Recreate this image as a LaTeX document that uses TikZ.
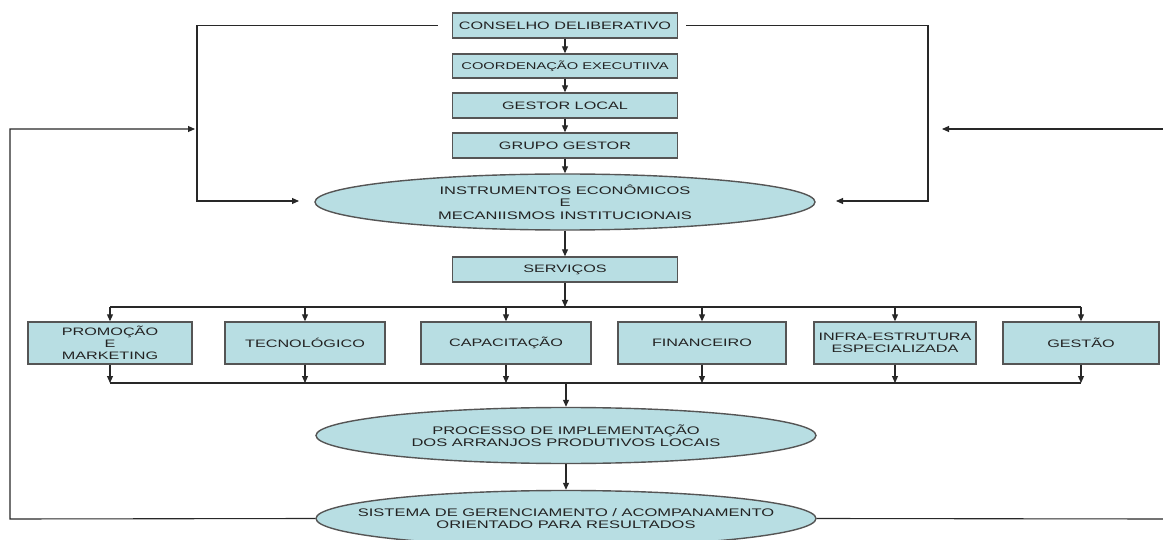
\documentclass[tikz,border=0pt]{standalone}
\usepackage{fontspec}
\setmainfont{Liberation Sans}[FakeStretch=1.5]
\usetikzlibrary{shapes.geometric,arrows.meta}
\definecolor{boxfill}{RGB}{184,222,227}
\definecolor{boxline}{RGB}{85,85,85}
\definecolor{linecol}{RGB}{40,40,40}
\definecolor{txt}{RGB}{35,35,35}
\begin{document}
\begin{tikzpicture}[x=1pt,y=-1pt,
  box/.style={draw=boxline,fill=boxfill,line width=1.4pt,inner sep=0pt,align=center,
    text=txt,font=\fontsize{10.8}{11.5}\selectfont},
  oval/.style={ellipse,draw=boxline,fill=boxfill,line width=1.4pt,inner xsep=-60pt,inner ysep=0pt,
    minimum width=500pt,minimum height=56pt,align=center,text=txt,
    font=\fontsize{11}{12.5}\selectfont},
  conn/.style={draw=linecol,line width=1.1pt},
  arr/.style={conn,-{Triangle[length=7pt,width=6pt]}}]
\useasboundingbox (0,0) rectangle (1163,540);
\fill[white] (0,0) rectangle (1163,540);
\clip (0,0) rectangle (1163,540);

% top stack
\node[box,minimum width=225pt,minimum height=25pt] (c1) at (565,25.5) {CONSELHO DELIBERATIVO};
\node[box,minimum width=225pt,minimum height=24pt,font=\fontsize{9.8}{11}\selectfont] (c2) at (565,66) {COORDENAÇÃO EXECUTIIVA};
\node[box,minimum width=225pt,minimum height=25pt] (c3) at (565,105.5) {GESTOR LOCAL};
\node[box,minimum width=225pt,minimum height=25pt] (c4) at (565,145.5) {GRUPO GESTOR};
\node[oval] (e1) at (565,202) {INSTRUMENTOS ECONÔMICOS\\E\\MECANIISMOS INSTITUCIONAIS};
\node[box,minimum width=225pt,minimum height=25pt] (sv) at (565,269.5) {SERVIÇOS};

% service row
\node[box,minimum width=164pt,minimum height=42pt,font=\fontsize{10.8}{12}\selectfont] (p1) at (110,343) {PROMOÇÃO\\E\\MARKETING};
\node[box,minimum width=160pt,minimum height=42pt] (p2) at (305,343) {TECNOLÓGICO};
\node[box,minimum width=170pt,minimum height=42pt] (p3) at (506,343) {CAPACITAÇÃO};
\node[box,minimum width=168pt,minimum height=42pt] (p4) at (702,343) {FINANCEIRO};
\node[box,minimum width=162pt,minimum height=42pt,font=\fontsize{10.8}{12}\selectfont] (p5) at (895,343) {INFRA-ESTRUTURA\\ESPECIALIZADA};
\node[box,minimum width=156pt,minimum height=42pt] (p6) at (1081,343) {GESTÃO};

% lower ellipses
\node[oval] (e2) at (566,435.5) {PROCESSO DE IMPLEMENTAÇÃO\\DOS ARRANJOS PRODUTIVOS LOCAIS};
\node[oval] (e3) at (566,518.5) {SISTEMA DE GERENCIAMENTO / ACOMPANAMENTO\\ORIENTADO PARA RESULTADOS};

% coordinates
\coordinate (busTop) at (565,307);
\coordinate (busBot) at (566,383);
\coordinate (Lcorner) at (197,201);
\coordinate (Ltip) at (299,201);
\coordinate (Rcorner) at (928,201);
\coordinate (Rtip) at (836,201);
\coordinate (FLb) at (10,519);
\coordinate (FLtip) at (195,129);
\coordinate (FRb) at (1163,519);
\coordinate (FRtop) at (1163,129);
\coordinate (FRtip) at (942,129);

% vertical chain
\draw[arr] (c1) -- (c2);
\draw[arr] (c2) -- (c3);
\draw[arr] (c3) -- (c4);
\draw[arr] (c4) -- (e1);
\draw[arr] (e1) -- (sv);
\draw[arr] (sv) -- (busTop);

% brackets from the council
\draw[arr] ([xshift=-14pt]c1.west) -| (Lcorner) -- (Ltip);
\draw[arr] ([xshift=8pt]c1.east) -| (Rcorner) -- (Rtip);

% distribution bus
\draw[conn] (p1.north |- busTop) -- (p6.north |- busTop);
\foreach \n in {p1,p2,p3,p4,p5,p6}{
  \draw[arr] (\n.north |- busTop) -- (\n.north);
  \draw[arr] (\n.south) -- (\n.south |- busBot);
}
\draw[conn] (p1.south |- busBot) -- (p6.south |- busBot);
\draw[arr] (busBot) -- (e2);
\draw[arr] (e2) -- (e3);

% feedback loops
\draw[arr] (e3.west) -- (FLb) |- (FLtip);
\draw[conn] (e3.east) -- (FRb);
\draw[arr] (FRtop) -- (FRtip);
\end{tikzpicture}
\end{document}
